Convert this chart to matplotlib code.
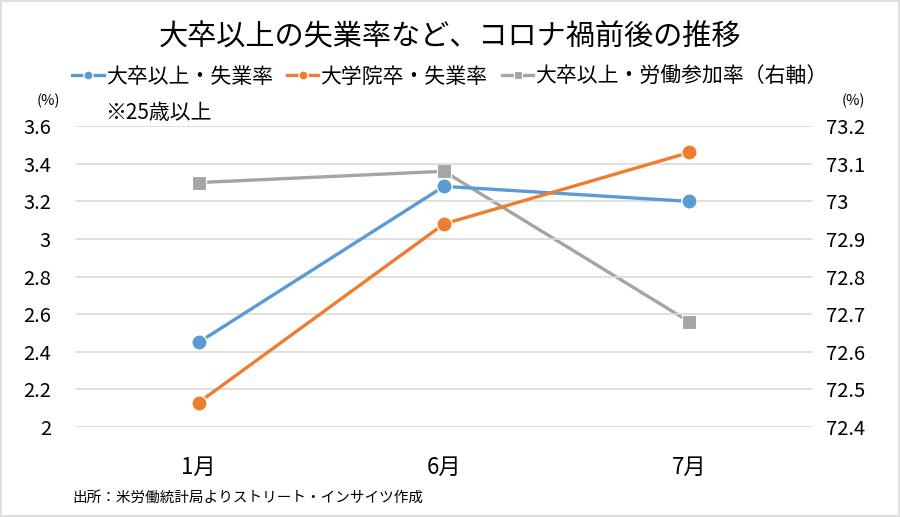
import matplotlib
matplotlib.use("Agg")
import matplotlib.pyplot as plt
from matplotlib.ticker import FuncFormatter
from matplotlib.patches import Rectangle

plt.rcParams['font.family'] = ['Noto Sans CJK JP', 'DejaVu Sans']

months = ['1月', '6月', '7月']
unemp_univ = [2.45, 3.28, 3.20]
unemp_grad = [2.13, 3.08, 3.46]
particip_univ = [73.05, 73.08, 72.68]

names = ['大卒以上・失業率', '大学院卒・失業率', '大卒以上・労働参加率（右軸）']
colors = ['#5b9bd5', '#ed7d31', '#a5a5a5']

fig = plt.figure(figsize=(9, 5.17), dpi=100)
fig.patches.append(Rectangle((0.001, 0.001), 0.998, 0.997, transform=fig.transFigure,
                             fill=False, edgecolor='#d9d9d9', linewidth=1.2))

ax = fig.add_axes([0.0844, 0.174, 0.8178, 0.582])
ax2 = ax.twinx()

x = range(len(months))
l1, = ax.plot(x, unemp_univ, color=colors[0], lw=2.4, marker='o', ms=11,
              mec='white', mew=1, zorder=3, label=names[0])
l2, = ax.plot(x, unemp_grad, color=colors[1], lw=2.4, marker='o', ms=11,
              mec='white', mew=1, zorder=3, label=names[1])
l3, = ax2.plot(x, particip_univ, color=colors[2], lw=2.4, marker='s', ms=10,
               mec='white', mew=0.8, zorder=2, label=names[2])

ax.set_xlim(-0.5, 2.5)
ax.set_ylim(2, 3.6)
ax.set_yticks([2 + 0.2 * i for i in range(9)])
ax2.set_ylim(72.4, 73.2)
ax2.set_yticks([72.4 + 0.1 * i for i in range(9)])

fmt = FuncFormatter(lambda v, p: '%g' % round(v, 2))
ax.yaxis.set_major_formatter(fmt)
ax2.yaxis.set_major_formatter(fmt)

ax.set_xticks(list(x))
ax.set_xticklabels(months)
ax.grid(axis='y', color='#d9d9d9', lw=1.2)
ax.set_axisbelow(True)
for a in (ax, ax2):
    for s in a.spines.values():
        s.set_visible(False)
    a.tick_params(length=0, labelsize=14.5, colors='black')
ax.tick_params(axis='x', pad=21, labelsize=16)
ax.tick_params(axis='y', pad=18)
ax2.tick_params(axis='y', pad=10)
ax.set_zorder(ax2.get_zorder() + 1)
ax.patch.set_visible(False)

fig.text(0.5, 0.927, '大卒以上の失業率など、コロナ禍前後の推移', ha='center', va='center', fontsize=21)
fig.legend(handles=[l1, l2, l3], loc='center', bbox_to_anchor=(0.5, 0.852), ncol=3,
           frameon=False, fontsize=15, handlelength=1.5, handletextpad=0.1,
           columnspacing=0.7, markerscale=0.6)
fig.text(0.054, 0.805, '(%)', ha='center', va='center', fontsize=10.5)
fig.text(0.948, 0.805, '(%)', ha='center', va='center', fontsize=10.5)
fig.text(0.117, 0.782, '※25歳以上', ha='left', va='center', fontsize=15)
fig.text(0.08, 0.038, '出所：米労働統計局よりストリート・インサイツ作成', ha='left', va='center', fontsize=10.5)

fig.savefig('out.png', dpi=100)
